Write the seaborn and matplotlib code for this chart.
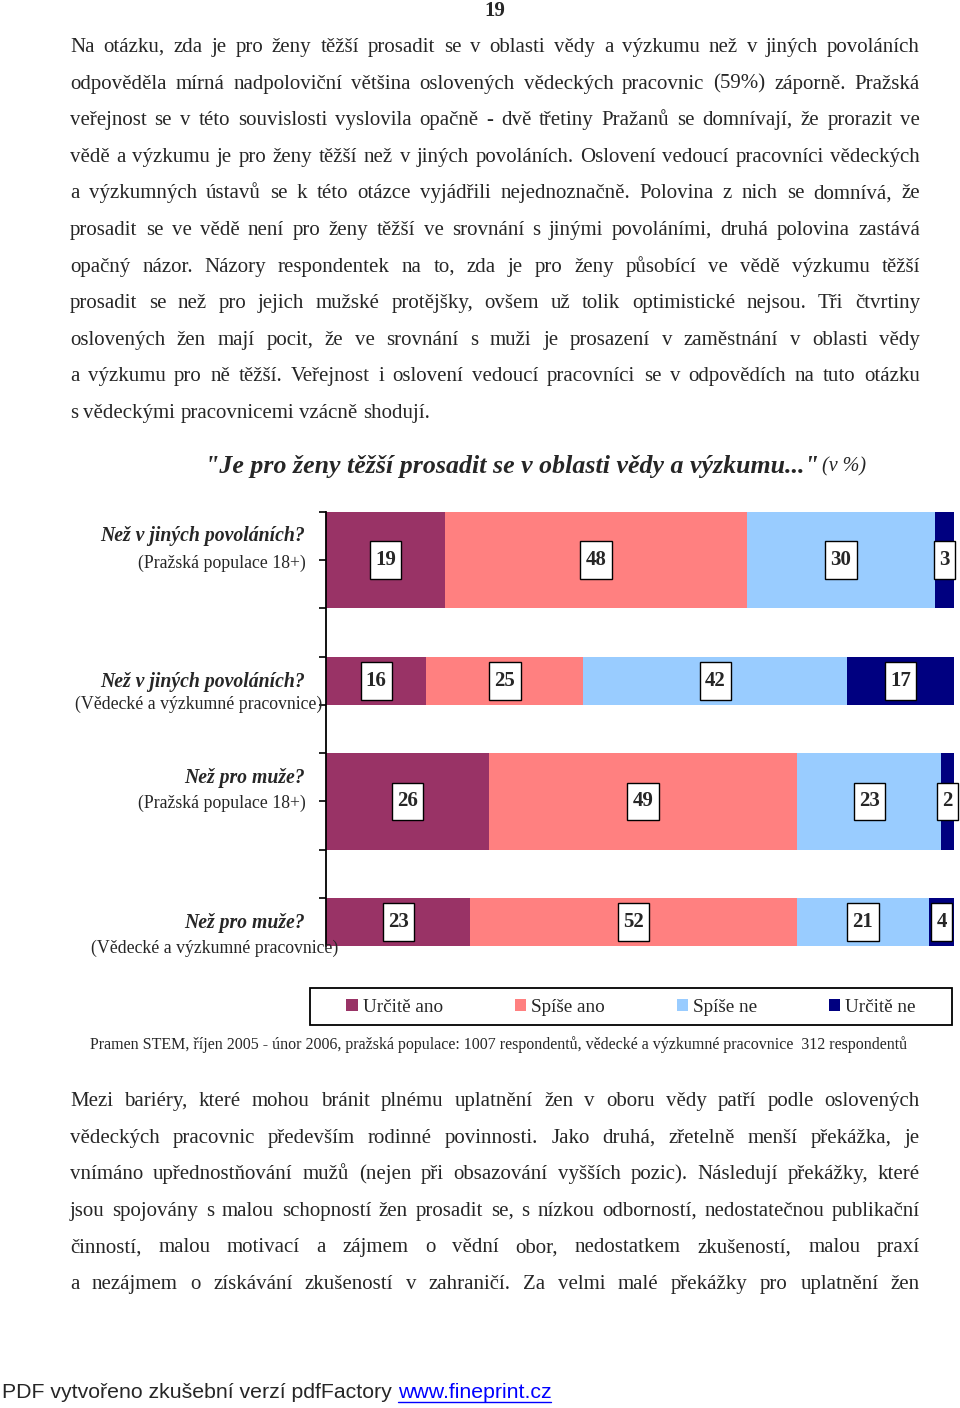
import numpy as np
import matplotlib.pyplot as plt
import seaborn as sns
from matplotlib.patches import Patch, Rectangle
from matplotlib.lines import Line2D
from matplotlib.path import Path

W, H = 960, 1408

# data
answers = ['Určitě ano', 'Spíše ano', 'Spíše ne', 'Určitě ne']
questions = ['Než v jiných povoláních?', 'Než v jiných povoláních?',
             'Než pro muže?', 'Než pro muže?']
populations = ['(Pražská populace 18+)', '(Vědecké a výzkumné pracovnice)',
               '(Pražská populace 18+)', '(Vědecké a výzkumné pracovnice)']
urcite_ano = [19, 16, 26, 23]
spise_ano = [48, 25, 49, 52]
spise_ne = [30, 42, 23, 21]
urcite_ne = [3, 17, 2, 4]
colors = ['#993366', '#FF8080', '#99CCFF', '#000080']

# row layout (excel style: thick / thin bars)
row_center = [1, 3.5, 6, 8.5]
row_height = [2, 1, 2, 1]

para_top = [
    "Na otázku, zda je pro ženy těžší prosadit se v oblasti vědy a výzkumu než v jiných povoláních",
    "odpověděla mírná nadpoloviční většina oslovených vědeckých pracovnic (59%) záporně. Pražská",
    "veřejnost se v této souvislosti vyslovila opačně - dvě třetiny Pražanů se domnívají, že prorazit ve",
    "vědě a výzkumu je pro ženy těžší než v jiných povoláních. Oslovení vedoucí pracovníci vědeckých",
    "a výzkumných ústavů se k této otázce vyjádřili nejednoznačně. Polovina z nich se domnívá, že",
    "prosadit se ve vědě není pro ženy těžší ve srovnání s jinými povoláními, druhá polovina zastává",
    "opačný názor. Názory respondentek na to, zda je pro ženy působící ve vědě výzkumu těžší",
    "prosadit se než pro jejich mužské protějšky, ovšem už tolik optimistické nejsou. Tři čtvrtiny",
    "oslovených žen mají pocit, že ve srovnání s muži je prosazení v zaměstnání v oblasti vědy",
    "a výzkumu pro ně těžší. Veřejnost i oslovení vedoucí pracovníci se v odpovědích na tuto otázku",
    "s vědeckými pracovnicemi vzácně shodují.",
]
para_bottom = [
    "Mezi bariéry, které mohou bránit plnému uplatnění žen v oboru vědy patří podle oslovených",
    "vědeckých pracovnic především rodinné povinnosti. Jako druhá, zřetelně menší překážka, je",
    "vnímáno upřednostňování mužů (nejen při obsazování vyšších pozic). Následují překážky, které",
    "jsou spojovány s malou schopností žen prosadit se, s nízkou odborností, nedostatečnou publikační",
    "činností, malou motivací a zájmem o vědní obor, nedostatkem zkušeností, malou praxí",
    "a nezájmem o získávání zkušeností v zahraničí. Za velmi malé překážky pro uplatnění žen",
]
title = '"Je pro ženy těžší prosadit se v oblasti vědy a výzkumu..."'
source = ("Pramen STEM, říjen 2005 - únor 2006, pražská populace: 1007 respondentů, "
          "vědecké a výzkumné pracovnice  312 respondentů")

sns.set_style('white')
plt.rcParams['font.family'] = ['Liberation Serif', 'DejaVu Serif']

fig = plt.figure(figsize=(W / 100, H / 100), dpi=100)
renderer = fig.canvas.get_renderer()


def fx(x):
    return x / W


def fy(y):
    return 1 - y / H


def justify(line, y, x0=70, x1=920, size=15, last=False):
    words = line.split(' ')
    ts = [fig.text(0, fy(y + 6), w, fontsize=size, va='baseline', ha='left') for w in words]
    widths = [t.get_window_extent(renderer).width for t in ts]
    if last or len(words) == 1:
        gap = size * 0.25 * 100 / 72
    else:
        gap = (x1 - x0 - sum(widths)) / (len(words) - 1)
    x = x0
    for t, w in zip(ts, widths):
        t.set_x(fx(x))
        x += w + gap


def tall_box(x0, y0, width, height, mutation_size):
    # label box, taller than wide like the excel one
    px, py = 0.25 * mutation_size, 0.42 * mutation_size
    x0, y0 = x0 - px, y0 - py
    x1, y1 = x0 + width + 2 * px, y0 + height + 2 * py
    return Path([(x0, y0), (x1, y0), (x1, y1), (x0, y1), (x0, y0)], closed=True)


# page number
fig.text(fx(495), fy(11), '19', fontsize=15, fontweight='bold', ha='center', va='center')

for i, line in enumerate(para_top):
    justify(line, 46 + i * 36.6, last=(i == len(para_top) - 1))

for i, line in enumerate(para_bottom):
    justify(line, 1100 + i * 36.6)

# chart title
t = fig.text(fx(205), fy(466), title, fontsize=18.6, fontweight='bold',
             fontstyle='italic', ha='left', va='center')
tw = t.get_window_extent(renderer).width
fig.text(fx(205 + tw + 3), fy(467), '(v %)', fontsize=14.5, fontstyle='italic',
         ha='left', va='center')

# stacked bars
ax = fig.add_axes([fx(326), fy(946), 628 / W, 434 / H])
vals = np.array([urcite_ano, spise_ano, spise_ne, urcite_ne])
cum = vals.cumsum(axis=0)
keys = [str(j) for j in range(len(questions))]
for k in range(len(answers) - 1, -1, -1):
    sns.barplot(x=cum[k], y=keys, order=keys, orient='h', color=colors[k],
                saturation=1, linewidth=0, errorbar=None, ax=ax)

for idx, p in enumerate(ax.patches):
    j = idx % len(keys)
    p.set_y(row_center[j] - row_height[j] / 2)
    p.set_height(row_height[j])

ax.set_xlim(0, 100)
ax.set_ylim(9, 0)
ax.set_yticks(range(9))
ax.set_yticklabels([])
ax.set_xticks([])
ax.set_xlabel('')
ax.set_ylabel('')
for s in ['top', 'right', 'bottom']:
    ax.spines[s].set_visible(False)
ax.spines['left'].set_color('black')
ax.spines['left'].set_linewidth(1.3)
ax.tick_params(axis='y', left=True, length=5, width=1.2, color='black', direction='out')
ax.set_facecolor('none')

starts = cum - vals
for k in range(len(answers)):
    for j in range(len(keys)):
        ax.text(starts[k, j] + vals[k, j] / 2, row_center[j], str(vals[k, j]),
                ha='center', va='center', fontsize=15, fontweight='bold',
                bbox=dict(boxstyle=tall_box, fc='white', ec='black', lw=1))

# category labels
q_y = [536, 682, 778, 923]
p_xy = [(306, 563), (322, 704), (306, 803), (338, 948)]
for j in range(len(keys)):
    fig.text(fx(305), fy(q_y[j]), questions[j], fontsize=14.2, fontweight='bold',
             fontstyle='italic', ha='right', va='center')
    fig.text(fx(p_xy[j][0]), fy(p_xy[j][1]), populations[j], fontsize=12.8,
             ha='right', va='center')

# legend
handles = [Patch(facecolor=c, edgecolor='none', label=a) for a, c in zip(answers, colors)]
fig.legend(handles=handles, loc='center', bbox_to_anchor=(fx(631), fy(1007)),
           ncol=4, frameon=False, handlelength=0.6, handleheight=0.6,
           handletextpad=0.25, columnspacing=3.75, fontsize=13.8)
fig.add_artist(Rectangle((fx(310), fy(1025)), 642 / W, 37 / H, transform=fig.transFigure,
                         fill=False, ec='black', lw=1.3))

fig.text(fx(90), fy(1045), source, fontsize=11.5, ha='left', va='center')

# footer
f1 = fig.text(fx(2), fy(1392), 'PDF vytvořeno zkušební verzí pdfFactory ', fontsize=15.3,
              family=['Liberation Sans', 'DejaVu Sans'], ha='left', va='center')
w1 = f1.get_window_extent(renderer).width
f2 = fig.text(fx(2 + w1), fy(1392), 'www.fineprint.cz', fontsize=15.3, color='#0000FF',
              family=['Liberation Sans', 'DejaVu Sans'], ha='left', va='center')
w2 = f2.get_window_extent(renderer).width
fig.add_artist(Line2D([fx(2 + w1), fx(2 + w1 + w2)], [fy(1402), fy(1402)],
                      transform=fig.transFigure, color='#0000FF', lw=1))

fig.savefig('out.png', dpi=100)
